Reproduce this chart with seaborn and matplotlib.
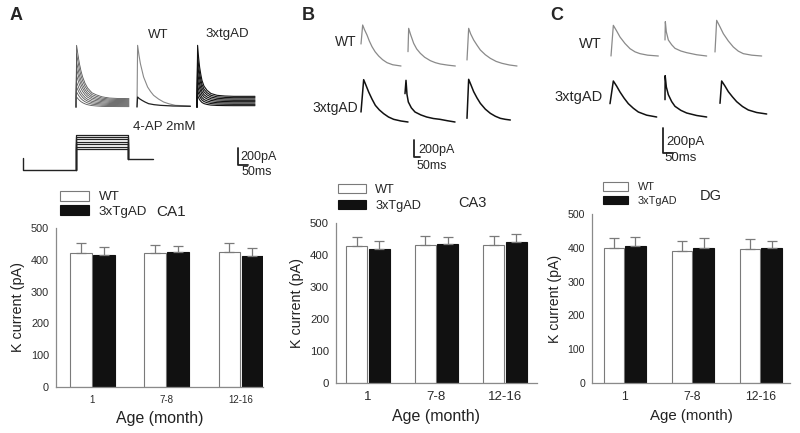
import numpy as np
import pandas as pd
import matplotlib
matplotlib.use('Agg')
import matplotlib.pyplot as plt
import seaborn as sns
from matplotlib.patches import Patch

# ---- bar chart data (K current, pA; mean and SEM) ----
ages = ['1', '7-8', '12-16']
genotypes = ['WT', '3xTgAD']

ca1_wt = [422, 420, 425]
ca1_wt_se = [32, 27, 28]
ca1_tg = [416, 423, 411]
ca1_tg_se = [25, 21, 26]

ca3_wt = [429, 431, 431]
ca3_wt_se = [28, 29, 29]
ca3_tg = [419, 435, 441]
ca3_tg_se = [24, 20, 26]

dg_wt = [399, 390, 396]
dg_wt_se = [29, 30, 30]
dg_tg = [404, 400, 399]
dg_tg_se = [27, 28, 21]

# ---- example traces (time ms, current pA) ----
# panel A: families of currents, decay shape + peak / steady-state levels
a_wt_t = [0, 3, 10, 17, 25, 33, 45, 58, 80, 100, 130, 167, 210, 265]
a_wt_frac = [1, 0.82, 0.66, 0.52, 0.41, 0.29, 0.2, 0.11, 0.074, 0.035, 0.012, 0.004, 0]
a_wt_peak = [740, 640, 540, 460, 380, 300, 240, 180, 120]
a_wt_end = [100, 88, 76, 64, 52, 40, 28, 16, 4]

a_ap_t = [0, 3, 10, 17, 25, 33, 43, 53, 68, 83, 108, 133, 160, 192, 267]
a_ap_ctrl = [0, 740, 620, 520, 440, 360, 300, 240, 185, 140, 95, 60, 38, 20, 12]
a_ap_drug_t = [0, 3, 12, 25, 40, 58, 85, 117, 180, 267]
a_ap_drug = [0, 120, 100, 80, 60, 40, 28, 20, 12, 8]

a_tg_t = [0, 3, 8, 13, 19, 25, 35, 50, 70, 100, 140, 183, 290]
a_tg_frac = [1, 0.76, 0.575, 0.43, 0.31, 0.2, 0.118, 0.055, 0.02, 0.006, 0, 0]
a_tg_peak = [740, 620, 520, 420, 340, 260, 200, 140]
a_tg_end = [128, 112, 96, 80, 64, 48, 32, 16]

# voltage protocol (mV)
step_levels = [0, 12, 24, 36, 48, 60, 72]
hold_mv = -105
pre_mv = -45
post_mv = -50
step_on, step_off, prot_end = 265, 525, 650

# panel B (CA3) traces
b_wt_t = [[0, 10, 20, 36, 50, 66, 85, 106, 130, 156, 190, 240],
          [0, 4, 15, 34, 52, 74, 100, 134, 164, 194, 240, 284],
          [0, 10, 22, 40, 60, 80, 110, 140, 175, 210, 255, 300]]
b_wt_i = [[264, 492, 440, 372, 300, 232, 170, 120, 75, 40, 15, 0],
          [172, 452, 380, 272, 205, 152, 105, 64, 40, 24, 10, 0],
          [72, 452, 385, 312, 250, 192, 135, 92, 55, 32, 12, 0]]
b_tg_t = [[0, 16, 30, 46, 66, 86, 110, 136, 165, 196, 240, 282],
          [0, 6, 12, 20, 38, 60, 95, 130, 170, 210, 255, 300],
          [0, 10, 24, 40, 60, 80, 110, 140, 170, 200, 230, 260]]
b_tg_i = [[120, 508, 440, 360, 275, 200, 145, 100, 60, 32, 12, 0],
          [340, 500, 330, 240, 170, 120, 85, 60, 42, 32, 15, 0],
          [20, 488, 420, 340, 265, 200, 130, 80, 45, 20, 8, 0]]

# panel C (DG) traces
c_wt_t = [[0, 14, 34, 54, 84, 114, 144, 174, 220, 284],
          [0, 2, 8, 20, 40, 60, 95, 130, 190, 250],
          [0, 10, 30, 50, 80, 110, 140, 170, 220, 280]]
c_wt_i = [[0, 368, 300, 228, 150, 88, 50, 28, 10, 0],
          [192, 412, 290, 192, 135, 92, 60, 40, 15, 0],
          [48, 428, 350, 268, 180, 108, 58, 28, 10, 0]]
c_tg_t = [[0, 20, 40, 60, 85, 110, 140, 170, 220, 280],
          [0, 1, 8, 20, 40, 60, 95, 130, 190, 250],
          [0, 10, 30, 50, 75, 100, 135, 170, 220, 280]]
c_tg_i = [[160, 432, 370, 300, 225, 160, 105, 60, 22, 0],
          [208, 496, 360, 268, 185, 128, 80, 48, 18, 0],
          [128, 396, 335, 268, 205, 148, 90, 48, 18, 0]]

sns.set_theme(style='white')
plt.rcParams['font.family'] = ['Liberation Sans', 'DejaVu Sans']

W, H = 800, 433
fig = plt.figure(figsize=(8, 4.33), dpi=100)


def px_ax(left, top, width, height):
    return fig.add_axes([left / W, 1 - (top + height) / H, width / W, height / H])


def trace_ax(x0, y0, ms_px, pa_px, w=70, h=75):
    # data (0, 0) lands on pixel (x0, y0)
    ax = px_ax(x0 - 3, y0 + 5 - h, w, h)
    ax.set_xlim(-3 * ms_px, (w - 3) * ms_px)
    ax.set_ylim(-5 * pa_px, (h - 5) * pa_px)
    ax.axis('off')
    return ax


def ftext(x, y, s, **kw):
    kw.setdefault('va', 'center')
    fig.text(x / W, 1 - y / H, s, **kw)


def scale_bar(x0, y0, ms_px, pa_px):
    ax = trace_ax(x0, y0, ms_px, pa_px, w=50, h=40)
    ax.plot([0, 0, 50], [200, 0, 0], color='#222222', lw=1.3, clip_on=False)


def family(ax, t, frac, peaks, ends, color, lw):
    for pk, en in zip(peaks, ends):
        cur = [0] + [en + (pk - en) * f for f in frac]
        ax.plot(t, cur, color=color, lw=lw, clip_on=False)


# ---------------- panel A traces ----------------
ax = trace_ax(76, 107, 5, 12)
family(ax, a_wt_t, a_wt_frac, a_wt_peak, a_wt_end, '#555555', 0.6)
ax = trace_ax(137, 107, 5, 12)
ax.plot(a_ap_t, a_ap_ctrl, color='#888888', lw=0.8, clip_on=False)
ax.plot(a_ap_drug_t, a_ap_drug, color='#222222', lw=0.9, clip_on=False)
ax = trace_ax(197, 107, 5, 12)
family(ax, a_tg_t, a_tg_frac, a_tg_peak, a_tg_end, '#111111', 0.8)

ax = trace_ax(23, 149, 5, 5, w=140, h=50)
ax.plot([0, 0, step_on], [pre_mv, hold_mv, hold_mv], color='#222222', lw=1, clip_on=False)
for lv in step_levels:
    ax.plot([step_on, step_on, step_off, step_off], [hold_mv, lv, lv, post_mv],
            color='#222222', lw=0.9, clip_on=False)
ax.plot([step_off, prot_end], [post_mv, post_mv], color='#222222', lw=1, clip_on=False)

ftext(158, 35, 'WT', ha='center', fontsize=9.5)
ftext(205, 34, '3xtgAD', ha='left', fontsize=9.5)
ftext(133, 127, '4-AP 2mM', ha='left', fontsize=9.5)
scale_bar(238, 165, 5, 12)
ftext(240, 157, '200pA', ha='left', fontsize=9)
ftext(242, 172, '50ms', ha='left', fontsize=9)

# ---------------- panel B traces ----------------
for x0, t, i in zip([361, 408, 467], b_wt_t, b_wt_i):
    trace_ax(x0, 66, 6, 12).plot(t, i, color='#8a8a8a', lw=0.9, clip_on=False)
for x0, y0, t, i in zip([361, 405, 467], [122, 122, 120], b_tg_t, b_tg_i):
    trace_ax(x0, y0, 6, 12).plot(t, i, color='#111111', lw=1.1, clip_on=False)
ftext(357, 42, 'WT', ha='right', fontsize=10)
ftext(358, 108, '3xtgAD', ha='right', fontsize=10)
scale_bar(414, 157, 8, 12)
ftext(418, 150, '200pA', ha='left', fontsize=9)
ftext(417, 166, '50ms', ha='left', fontsize=9)

# ---------------- panel C traces ----------------
for x0, t, i in zip([611, 665, 715], c_wt_t, c_wt_i):
    trace_ax(x0, 56, 6, 12).plot(t, i, color='#8a8a8a', lw=0.9, clip_on=False)
for x0, y0, t, i in zip([610, 665, 720], [117, 117, 114], c_tg_t, c_tg_i):
    trace_ax(x0, y0, 6, 12).plot(t, i, color='#111111', lw=1.1, clip_on=False)
ftext(602, 44, 'WT', ha='right', fontsize=10.5)
ftext(603, 97, '3xtgAD', ha='right', fontsize=10.5)
scale_bar(663, 153, 5, 8)
ftext(666, 142, '200pA', ha='left', fontsize=9.5)
ftext(664, 158, '50ms', ha='left', fontsize=9.5)

# panel letters
ftext(10, 15, 'A', ha='left', fontsize=13, fontweight='bold')
ftext(302, 16, 'B', ha='left', fontsize=13, fontweight='bold')
ftext(550, 16, 'C', ha='left', fontsize=13, fontweight='bold')


# ---------------- bar charts ----------------
def bar_panel(rect, wt, wt_se, tg, tg_se, xlim, width, tick_fs, xtick_fs, ylab_fs, xlab_fs):
    df = pd.DataFrame({'age': ages * 2,
                       'genotype': ['WT'] * 3 + ['3xTgAD'] * 3,
                       'current': wt + tg})
    ax = px_ax(*rect)
    sns.barplot(data=df, x='age', y='current', hue='genotype', order=ages,
                hue_order=genotypes, palette={'WT': 'white', '3xTgAD': '#111111'},
                errorbar=None, width=width, gap=0.07, legend=False, ax=ax)
    for cont, ec in zip(ax.containers, ['#7a7a7a', '#111111']):
        for p in cont:
            p.set_edgecolor(ec)
            p.set_linewidth(0.8)
    for cont, vals, se in zip(ax.containers, [wt, tg], [wt_se, tg_se]):
        xs = [p.get_x() + p.get_width() / 2 for p in cont]
        ax.errorbar(xs, vals, yerr=[np.zeros(len(se)), se], fmt='none',
                    ecolor='#7a7a7a', elinewidth=0.9, capsize=3.5, capthick=0.9, zorder=1)
    ax.set_xlim(*xlim)
    ax.set_ylim(0, 500)
    ax.set_yticks(range(0, 501, 100))
    sns.despine(ax=ax)
    for s in ['left', 'bottom']:
        ax.spines[s].set_color('#8a8a8a')
        ax.spines[s].set_linewidth(0.9)
    ax.tick_params(axis='y', direction='out', length=3, width=0.8, color='#8a8a8a',
                   labelsize=tick_fs, labelcolor='#2a2a2a', pad=2)
    ax.tick_params(axis='x', length=0, labelsize=xtick_fs, labelcolor='#2a2a2a', pad=6)
    ax.set_ylabel('K current (pA)', fontsize=ylab_fs, color='#222222', labelpad=4)
    ax.set_xlabel('Age (month)', fontsize=xlab_fs, color='#222222', labelpad=4)
    return ax


def add_legend(ax, x, y, fs, hl, hh, sp, pad):
    handles = [Patch(facecolor='white', edgecolor='#7a7a7a', lw=0.8),
               Patch(facecolor='#111111', edgecolor='#111111', lw=0.8)]
    ax.legend(handles, genotypes, loc='upper left', bbox_to_anchor=(x / W, 1 - y / H),
              bbox_transform=fig.transFigure, frameon=False, fontsize=fs, borderpad=0,
              borderaxespad=0, handlelength=hl, handleheight=hh, labelspacing=sp,
              handletextpad=pad)


ax = bar_panel((56, 228, 207, 159), ca1_wt, ca1_wt_se, ca1_tg, ca1_tg_se,
               (-0.49, 2.30), 0.62, 7.8, 7, 10.4, 11.4)
add_legend(ax, 60, 191, 9.6, 2.2, 0.72, 0.15, 0.7)
ftext(156, 212, 'CA1', ha='left', fontsize=11)

ax = bar_panel((336, 223, 201, 160), ca3_wt, ca3_wt_se, ca3_tg, ca3_tg_se,
               (-0.467, 2.47), 0.66, 8.2, 9.5, 10.4, 11.5)
add_legend(ax, 338, 184, 9.2, 2.2, 0.72, 0.3, 0.7)
ftext(458, 203, 'CA3', ha='left', fontsize=10.5)

ax = bar_panel((592, 214, 198, 169), dg_wt, dg_wt_se, dg_tg, dg_tg_se,
               (-0.478, 2.43), 0.64, 7.6, 8.8, 10.2, 10.8)
add_legend(ax, 603, 182, 7.8, 2.3, 0.85, 0.33, 0.9)
ftext(700, 196, 'DG', ha='left', fontsize=10.5)

fig.savefig('out.png', dpi=100, facecolor='white')
